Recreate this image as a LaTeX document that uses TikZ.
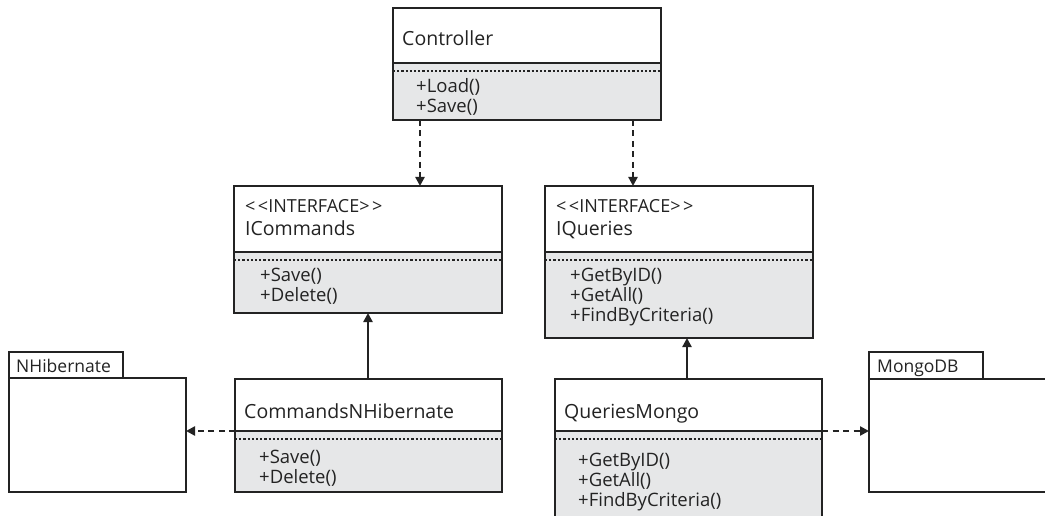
\documentclass[tikz,border=0pt]{standalone}
\usepackage{fontspec}
\setmainfont{Open Sans}
\usetikzlibrary{arrows.meta,fit,calc}
\definecolor{linec}{HTML}{232323}
\definecolor{graybg}{HTML}{E6E7E8}
\tikzset{
  box/.style={draw=linec, line width=2.8pt, inner sep=0pt, outer sep=0pt},
  divline/.style={draw=linec, line width=2.6pt},
  dotline/.style={draw=linec, line width=2.2pt, dash pattern=on 2.2pt off 2pt},
  ttl/.style={font={\fontsize{19.5}{22}\selectfont}, inner sep=0pt, anchor=base west, text=linec},
  meth/.style={font={\fontsize{18.5}{20}\selectfont}, inner sep=0pt, anchor=base west, text=linec},
  stereo/.style={font={\fontsize{18}{20}\selectfont}, inner sep=0pt, anchor=base west, text=linec},
  pkg/.style={font={\fontsize{17.5}{19}\selectfont}, inner sep=0pt, anchor=base west, text=linec},
  dep/.style={draw=linec, line width=2.7pt, dash pattern=on 6pt off 4.5pt, -{Triangle[length=9pt,width=9pt]}},
  real/.style={draw=linec, line width=2.7pt, -{Triangle[length=9pt,width=9pt]}},
}
\newcommand\umlclass[6]{% name, xl, ytop, xr, ydiv, ybot
  \fill[graybg] (#2,#5) rectangle (#4,#6);
  \draw[dotline] (#2,{#5+8}) -- (#4,{#5+8});
  \draw[divline] (#2,#5) -- (#4,#5);
  \node[box, fit={(#2,#3) (#4,#6)}] (#1) {};
  \coordinate (#1-div) at (#2,#5);
  \coordinate (#1-divr) at (#4,#5);
}
\begin{document}
\begin{tikzpicture}[x=1pt,y=-1pt]
\clip (0,0) rectangle (1045,516);
\fill[white] (0,0) rectangle (1045,516);

% Controller
\umlclass{ctrl}{393}{8}{661}{63}{120}
\node[ttl] (ctrl-t) at (402,46) {Controller};
\node[meth] (ctrl-m1) at (416,93) {+Load()};
\node[meth] (ctrl-m2) at (416,113) {+Save()};

% ICommands
\umlclass{icmd}{234}{186}{502}{252}{313}
\node[stereo] (icmd-s) at (245,212) {<\kern2.5pt<INTERFACE>\kern2.5pt>};
\node[ttl] (icmd-t) at (245,236) {ICommands};
\node[meth] (icmd-m1) at (260,281) {+Save()};
\node[meth] (icmd-m2) at (260,301) {+Delete()};

% IQueries
\umlclass{iqry}{545}{186}{813}{252}{338}
\node[stereo] (iqry-s) at (556,212) {<\kern2.5pt<INTERFACE>\kern2.5pt>};
\node[ttl] (iqry-t) at (556,236) {IQueries};
\node[meth] (iqry-m1) at (570,281) {+GetByID()};
\node[meth] (iqry-m2) at (570,301) {+GetAll()};
\node[meth] (iqry-m3) at (570,321) {+FindByCriteria()};

% CommandsNHibernate
\umlclass{cmd}{235}{379}{502}{431}{492}
\node[ttl] (cmd-t) at (244,418) {CommandsNHibernate};
\node[meth] (cmd-m1) at (259,463) {+Save()};
\node[meth] (cmd-m2) at (259,483) {+Delete()};

% QueriesMongo
\umlclass{qm}{555}{379}{822}{431}{540}
\node[ttl] (qm-t) at (564,418) {QueriesMongo};
\node[meth] (qm-m1) at (578,466) {+GetByID()};
\node[meth] (qm-m2) at (578,486) {+GetAll()};
\node[meth] (qm-m3) at (578,506) {+FindByCriteria()};

% NHibernate package
\node[box, fit={(9,352) (123,378)}] (nhtab) {};
\node[box, fit={(9,378) (186,492)}] (nh) {};
\node[pkg] (nh-t) at (16,372) {NHibernate};

% MongoDB package
\node[box, fit={(869,352) (983,379)}] (mgtab) {};
\node[box, fit={(869,379) (1070,492)}] (mg) {};
\node[pkg] (mg-t) at (877,372) {MongoDB};

% connectors
\draw[dep] ($(ctrl.south west)+(27,0)$) coordinate (c1) -- (c1 |- icmd.north);
\draw[dep] ($(ctrl.south west)+(240,0)$) coordinate (c2) -- (c2 |- iqry.north);
\draw[real] ($(cmd.north west)+(133,0)$) coordinate (c3) -- (c3 |- icmd.south);
\draw[real] ($(qm.north west)+(132,0)$) coordinate (c4) -- (c4 |- iqry.south);
\draw[dep] (cmd-div) -- (cmd-div -| nh.east);
\draw[dep] (qm-divr) -- (qm-divr -| mg.west);
\end{tikzpicture}
\end{document}
